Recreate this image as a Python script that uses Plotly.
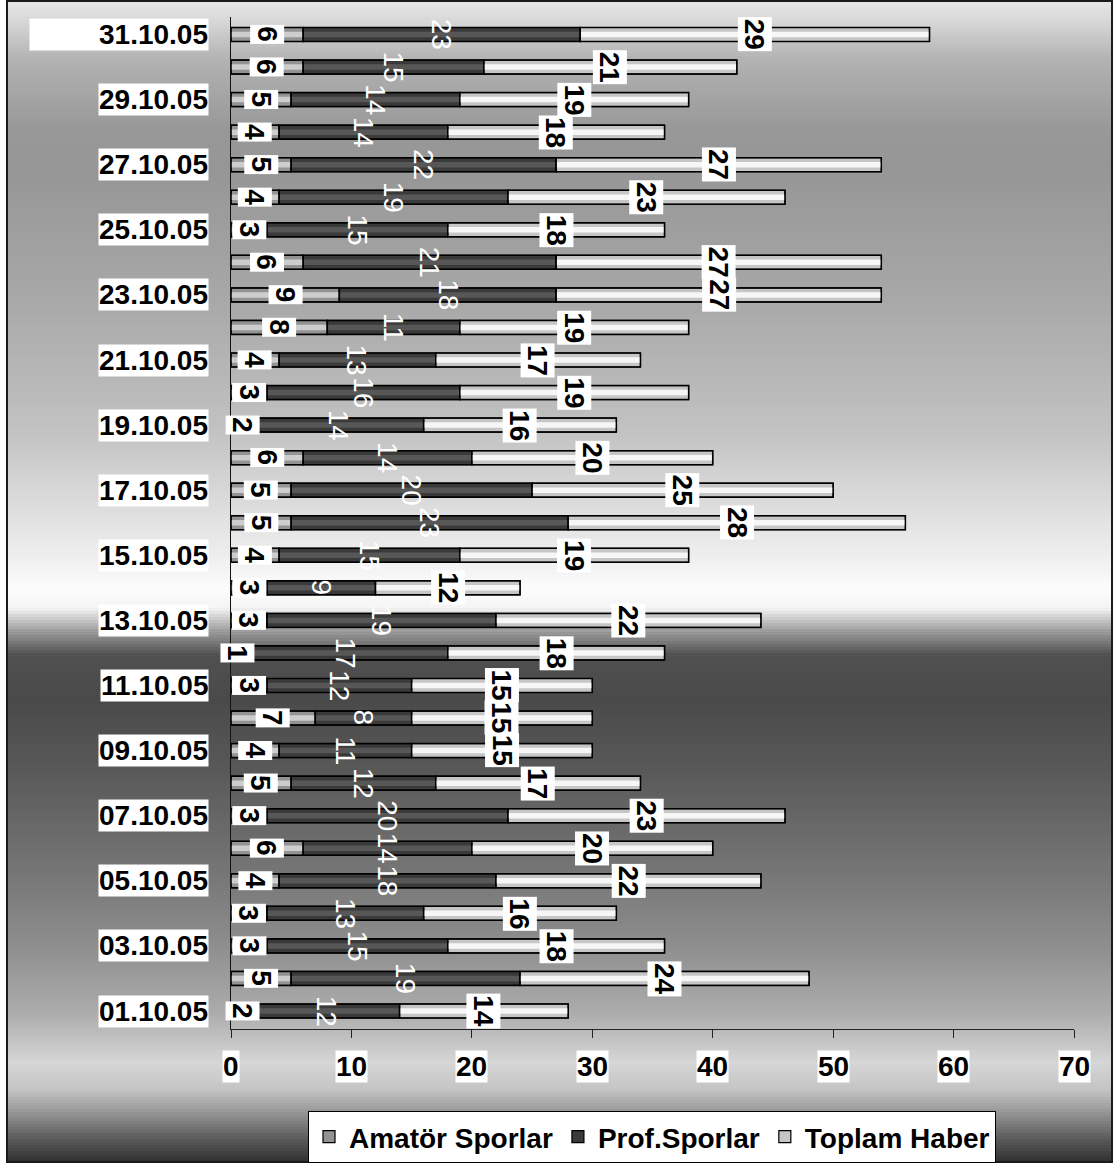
import plotly.graph_objects as go

dates = ["01.10.05", "02.10.05", "03.10.05", "04.10.05", "05.10.05", "06.10.05", "07.10.05",
         "08.10.05", "09.10.05", "10.10.05", "11.10.05", "12.10.05", "13.10.05", "14.10.05",
         "15.10.05", "16.10.05", "17.10.05", "18.10.05", "19.10.05", "20.10.05", "21.10.05",
         "22.10.05", "23.10.05", "24.10.05", "25.10.05", "26.10.05", "27.10.05", "28.10.05",
         "29.10.05", "30.10.05", "31.10.05"]
amator = [2, 5, 3, 3, 4, 6, 3, 5, 4, 7, 3, 1, 3, 3, 4, 5, 5, 6, 2, 3, 4, 8, 9, 6, 3, 4, 5, 4, 5, 6, 6]
prof = [12, 19, 15, 13, 18, 14, 20, 12, 11, 8, 12, 17, 19, 9, 15, 23, 20, 14, 14, 16, 13, 11, 18, 21, 15, 19, 22, 14, 14, 15, 23]
toplam = [14, 24, 18, 16, 22, 20, 23, 17, 15, 15, 15, 18, 22, 12, 19, 28, 25, 20, 16, 19, 17, 19, 27, 27, 18, 23, 27, 18, 19, 21, 29]
x_ticks = [0, 10, 20, 30, 40, 50, 60, 70]
series_names = ["Amatör Sporlar", "Prof.Sporlar", "Toplam Haber"]

W, H = 1115, 1164
ML, MR, MT, MB = 231, 41, 17, 135
PW, PH = W - ML - MR, H - MT - MB
FONT = "Liberation Sans, Arial, sans-serif"


def px2x(px):
    return (px - ML) / PW


def py2y(py):
    return (H - MB - py) / PH


base_prof = amator
base_top = [a + p for a, p in zip(amator, prof)]

fig = go.Figure()

BAR_W = 0.43
HL_W = 0.17
series = [
    (series_names[0], amator, [0] * len(amator), "#939393", "#cdcdcd"),
    (series_names[1], prof, base_prof, "#3a3a3a", "#575757"),
    (series_names[2], toplam, base_top, "#c6c6c6", "#f6f6f6"),
]
for name, vals, base, col, hl in series:
    fig.add_trace(go.Bar(
        y=dates, x=vals, base=base, orientation="h", name=name, width=BAR_W,
        marker=dict(color=col, line=dict(color="#000000", width=1.2)),
        showlegend=True, hoverinfo="x+y+name"))
    fig.add_trace(go.Bar(
        y=dates, x=vals, base=base, orientation="h", width=HL_W,
        marker=dict(color=hl, line=dict(width=0)), showlegend=False, hoverinfo="skip"))
    fig.add_trace(go.Bar(
        y=dates, x=vals, base=base, orientation="h", width=BAR_W,
        marker=dict(color="rgba(0,0,0,0)", line=dict(color="#000000", width=1.5)),
        showlegend=False, hoverinfo="skip"))

annotations = []
for i, d in enumerate(dates):
    a, p, t = amator[i], prof[i], toplam[i]
    annotations.append(dict(x=a / 2, y=d, xref="x", yref="y", text=str(a), showarrow=False,
                            textangle=90, bgcolor="white", borderpad=1,
                            font=dict(family=FONT, size=28, color="black", weight="bold")))
    annotations.append(dict(x=a + p / 2, y=d, xref="x", yref="y", text=str(p), showarrow=False,
                            textangle=90,
                            font=dict(family=FONT, size=28, color="white")))
    annotations.append(dict(x=a + p + t / 2, y=d, xref="x", yref="y", text=str(t), showarrow=False,
                            textangle=90, bgcolor="white", borderpad=1,
                            font=dict(family=FONT, size=28, color="black", weight="bold")))

for i, d in enumerate(dates):
    if i % 2 == 0:
        ann = dict(x=0, y=d, xref="x", yref="y", text=d, showarrow=False,
                   xanchor="right", xshift=-22, bgcolor="white", borderpad=0,
                   font=dict(family=FONT, size=28, color="black", weight="bold"))
        if d == dates[-1]:
            ann.update(width=178, align="right")
        annotations.append(ann)

for v in x_ticks:
    annotations.append(dict(x=v, y=0, xref="x", yref="paper", text=str(v), showarrow=False,
                            yanchor="middle", yshift=-37, bgcolor="white", borderpad=0,
                            font=dict(family=FONT, size=28, color="black", weight="bold")))

# background gradient (vertical metallic)
stops = [(0, 0xe8), (20, 0xd8), (60, 0xb2), (130, 0x98), (170, 0x96), (300, 0xa8),
         (430, 0xc2), (555, 0xee), (590, 0xfc), (608, 0xf4), (630, 0xa0), (655, 0x50),
         (700, 0x4a), (760, 0x56), (880, 0x78), (950, 0x90), (1013, 0xac), (1063, 0xd6),
         (1090, 0xc4), (1115, 0x90), (1140, 0x58), (1164, 0x2c)]


def gray_at(py):
    for (y0, g0), (y1, g1) in zip(stops[:-1], stops[1:]):
        if y0 <= py <= y1:
            f = (py - y0) / (y1 - y0) if y1 > y0 else 0
            return int(round(g0 + (g1 - g0) * f))
    return stops[-1][1]


shapes = []
step = 3
for py in range(2, 1162, step):
    g = gray_at(py + step / 2)
    shapes.append(dict(type="rect", xref="paper", yref="paper", layer="below",
                       x0=px2x(8), x1=px2x(1112), y0=py2y(py), y1=py2y(min(py + step + 1.5, 1162)),
                       fillcolor=f"rgb({g},{g},{g})", line=dict(width=0)))
shapes.append(dict(type="rect", xref="paper", yref="paper", layer="below",
                   x0=px2x(7), x1=px2x(1112), y0=py2y(1), y1=py2y(1162),
                   fillcolor="rgba(0,0,0,0)", line=dict(color="#1a1a1a", width=2)))

fig.update_layout(
    width=W, height=H,
    margin=dict(l=ML, r=MR, t=MT, b=MB, pad=0, autoexpand=False),
    paper_bgcolor="white",
    plot_bgcolor="rgba(0,0,0,0)",
    barmode="overlay",
    showlegend=True,
    legend=dict(orientation="h", x=px2x(652), xanchor="center", y=py2y(1111), yanchor="top",
                bgcolor="white", bordercolor="black", borderwidth=1, traceorder="normal",
                font=dict(family=FONT, size=28, color="black", weight="bold")),
    xaxis=dict(range=[0, 70], tickvals=x_ticks, showticklabels=False, showgrid=False,
               zeroline=False, showline=True, linecolor="#222", linewidth=1,
               ticks="outside", ticklen=8, tickcolor="#222", tickwidth=1),
    yaxis=dict(type="category", categoryorder="array", categoryarray=dates,
               showticklabels=False, showgrid=False, zeroline=False,
               showline=True, linecolor="#111", linewidth=1, ticks=""),
    annotations=annotations,
    shapes=shapes,
    font=dict(family=FONT),
)

fig.write_html("out.html", config={"displayModeBar": False},
               post_script="document.body.style.margin='0';")
